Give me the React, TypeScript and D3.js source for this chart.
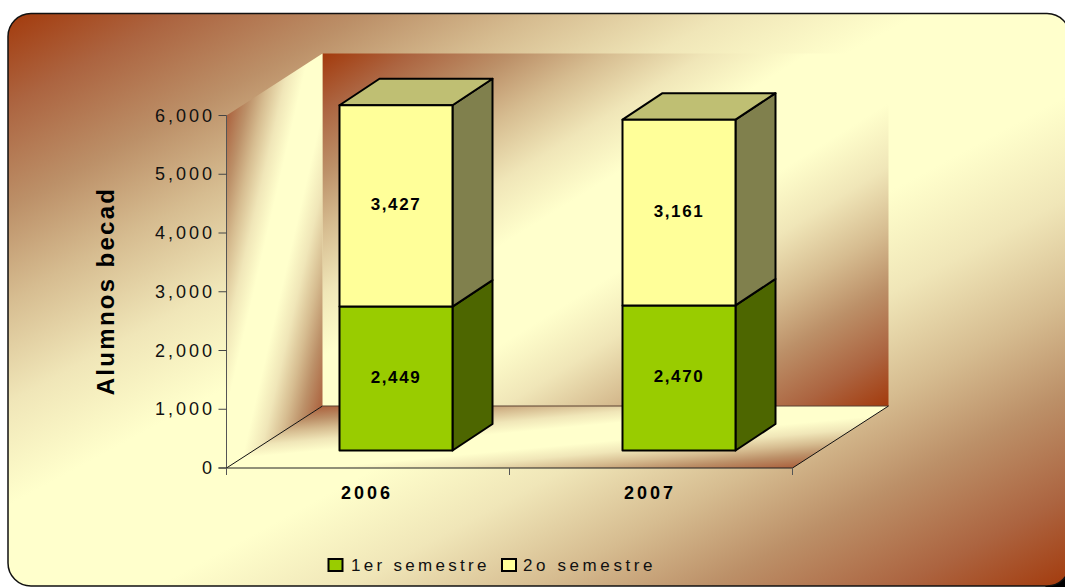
import React from "react";
import * as d3 from "d3";

const categories = ["2006", "2007"];
const semester1 = [2449, 2470];
const semester2 = [3427, 3161];
const yTicks = [0, 1000, 2000, 3000, 4000, 5000, 6000];
const seriesNames = ["1er semestre", "2o semestre"];
const axisTitle = "Alumnos becad";

const gradientStops: [number, string][] = [
  [0, "#A33A0C"],
  [0.08, "#AC6440"],
  [0.17, "#BC9068"],
  [0.25, "#D6BC90"],
  [0.34, "#F0E6B8"],
  [0.43, "#FFFFCC"],
  [0.57, "#FFFFCC"],
  [0.66, "#F0E6B8"],
  [0.75, "#D6BC90"],
  [0.83, "#BC9068"],
  [0.92, "#AC6440"],
  [1, "#A33A0C"],
];

function Grad({ id }: { id: string }) {
  return (
    <linearGradient id={id} x1="0" y1="0" x2="1" y2="1">
      {gradientStops.map(([o, c]) => (
        <stop key={o} offset={o} stopColor={c} />
      ))}
    </linearGradient>
  );
}

const font = "'Liberation Sans', Arial, sans-serif";

export default function App() {
  const x0 = 226.5, x1 = 792.5, y0 = 468, yTop = 115.5;
  const dx = 96, dy = -62;
  const y = d3.scaleLinear().domain([0, 6000]).range([y0, yTop]);
  const x = d3.scaleBand().domain(categories).range([x0, x1]);
  const barW = 113;
  const barDX = 40, barDY = -26.5;
  const barShiftX = 28;
  const shiftY = -17.5;
  const k = (v: number) => y0 - y(v);

  const pts = (a: number[][]) => a.map((p) => p.join(",")).join(" ");

  return (
    <svg width={1065} height={587} style={{ position: "absolute", left: 0, top: 0 }} fontFamily={font}>
      <defs>
        <Grad id="bg" />
        <Grad id="wall" />
        <Grad id="side" />
        <Grad id="floor" />
      </defs>
      <rect width={1065} height={587} fill="#fff" />
      <path d="M1045,587 L1065,587 L1065,566 Z" fill="#000" />
      <rect x={8} y={13.5} width={1062} height={572.5} rx={23} ry={23} fill="url(#bg)" stroke="#111" strokeWidth={1.5} />

      <polygon points={pts([[x0 + dx, y0 + dy], [x0 + dx, yTop + dy], [x1 + dx, yTop + dy], [x1 + dx, y0 + dy]])} fill="url(#wall)" />
      <polygon points={pts([[x0, y0], [x0, yTop], [x0 + dx, yTop + dy], [x0 + dx, y0 + dy]])} fill="url(#side)" />
      <polygon points={pts([[x0, y0], [x0 + dx, y0 + dy], [x1 + dx, y0 + dy], [x1, y0]])} fill="url(#floor)" stroke="none" />
      <polyline points={pts([[x0, y0], [x0 + dx, y0 + dy]])} fill="none" stroke="#111" strokeWidth={1} />
      <polyline points={pts([[x0 + dx, y0 + dy], [x1 + dx, y0 + dy]])} fill="none" stroke="#5a4030" strokeWidth={1} />
      <polyline points={pts([[x1 + dx, y0 + dy], [x1, y0]])} fill="none" stroke="#111" strokeWidth={1} />

      {/* axes */}
      <line x1={x0} x2={x0} y1={yTop} y2={y0 + 7} stroke="#555" strokeWidth={1} />
      <line x1={x0 - 8} x2={x1} y1={y0} y2={y0} stroke="#222" strokeWidth={1} />
      {yTicks.map((t) => (
        <g key={t}>
          <line x1={x0 - 8} x2={x0} y1={y(t)} y2={y(t)} stroke="#444" strokeWidth={1} />
          <text x={215} y={y(t) + 6} textAnchor="end" fontSize={18} letterSpacing={3} fill="#111">
            {d3.format(",")(t)}
          </text>
        </g>
      ))}
      {[x0, (x0 + x1) / 2, x1].map((t) => (
        <line key={t} x1={t} x2={t} y1={y0} y2={y0 + 7} stroke="#555" strokeWidth={1} />
      ))}
      {categories.map((c) => (
        <text key={c} x={(x(c) as number) + x.bandwidth() / 2 - 1} y={499} textAnchor="middle" fontSize={18} fontWeight="bold" letterSpacing={3} fill="#000">
          {c}
        </text>
      ))}
      <text transform="translate(114,291) rotate(-90)" textAnchor="middle" fontSize={24} fontWeight="bold" letterSpacing={2.3} fill="#000">
        {axisTitle}
      </text>

      {/* bars */}
      {categories.map((c, i) => {
        const L = (x(c) as number) + (x.bandwidth() - barW) / 2 + barShiftX;
        const R = L + barW;
        const base = y0 + shiftY;
        const yA = base - k(semester1[i]);
        const yB = yA - k(semester2[i]);
        return (
          <g key={c} stroke="#000" strokeWidth={2} strokeLinejoin="round">
            <polygon points={pts([[R, base], [R + barDX, base + barDY], [R + barDX, yA + barDY], [R, yA]])} fill="#4D6600" />
            <polygon points={pts([[R, yA], [R + barDX, yA + barDY], [R + barDX, yB + barDY], [R, yB]])} fill="#80804D" />
            <polygon points={pts([[L, yB], [L + barDX, yB + barDY], [R + barDX, yB + barDY], [R, yB]])} fill="#BFBF73" />
            <rect x={L} y={yA} width={barW} height={base - yA} fill="#99CC00" />
            <rect x={L} y={yB} width={barW} height={yA - yB} fill="#FFFF99" />
            <text x={(L + R) / 2} y={(yA + base) / 2 + 4.5} textAnchor="middle" fontSize={17} fontWeight="bold" letterSpacing={1.6} stroke="none" fill="#000">
              {d3.format(",")(semester1[i])}
            </text>
            <text x={(L + R) / 2} y={(yA + yB) / 2 + 4} textAnchor="middle" fontSize={17} fontWeight="bold" letterSpacing={1.6} stroke="none" fill="#000">
              {d3.format(",")(semester2[i])}
            </text>
          </g>
        );
      })}

      {/* legend */}
      <rect x={328.5} y={559} width={14} height={12} fill="#99CC00" stroke="#000" strokeWidth={2} />
      <text x={351} y={571} fontSize={17} letterSpacing={3.3} fill="#111">{seriesNames[0]}</text>
      <rect x={502} y={559} width={14} height={12} fill="#FFFF99" stroke="#000" strokeWidth={2} />
      <text x={523} y={571} fontSize={17} letterSpacing={3.6} fill="#111">{seriesNames[1]}</text>
    </svg>
  );
}
